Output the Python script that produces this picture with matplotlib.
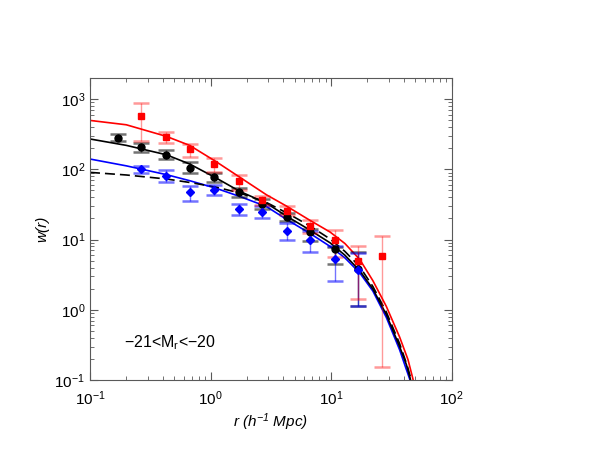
import matplotlib
matplotlib.use('Agg')
import matplotlib.pyplot as plt

plt.rcParams['font.family'] = ['Liberation Sans', 'DejaVu Sans']
plt.rcParams['mathtext.fontset'] = 'custom'
plt.rcParams['mathtext.rm'] = 'Liberation Sans'
plt.rcParams['mathtext.it'] = 'Liberation Sans:italic'
plt.rcParams['mathtext.default'] = 'regular'

# ── model curves ─────────────────────────────────────────────────────────────
r_red = [0.1, 0.2, 0.43, 0.67, 1.1, 1.75, 2.9, 4.3, 6.6, 9.8, 13, 17.3, 22.2, 28.7, 37, 43.4, 47.7, 49]
w_red = [496, 430, 294, 219, 130, 77, 43.5, 29.7, 19.0, 12.8, 8.8, 5.2, 2.6, 1.12, 0.41, 0.196, 0.104, 0.08]

r_blk = [0.1, 0.2, 0.43, 0.67, 1.1, 1.75, 2.9, 4.3, 6.6, 9.8, 13, 17.3, 22.2, 28.7, 37, 42.1, 45.4, 46.5]
w_blk = [270, 219, 161, 119, 76, 48.5, 33, 21.4, 13.8, 9.0, 6.0, 3.6, 1.98, 0.855, 0.3, 0.166, 0.104, 0.08]

r_blu = [0.1, 0.2, 0.43, 0.67, 1.1, 1.75, 2.9, 4.3, 6.6, 9.8, 13, 17.3, 22.2, 28.7, 37, 41.6, 44.8, 46]
w_blu = [140, 112, 84, 68.9, 54, 41, 29.6, 19.2, 12.4, 8.0, 5.5, 3.35, 1.85, 0.78, 0.27, 0.15, 0.104, 0.08]

r_dsh = [0.1, 0.2, 0.43, 0.67, 1.1, 1.75, 2.9, 4.3, 6.6, 9.8, 13, 17.3, 22.2, 28.7, 37, 42.8, 45.9, 47]
w_dsh = [90.4, 83, 72.8, 65, 56, 46, 33.8, 23.9, 15.8, 10.2, 6.8, 4.1, 2.15, 0.93, 0.33, 0.16, 0.104, 0.08]

# ── measurements ─────────────────────────────────────────────────────────────
r_all  = [0.172, 0.263, 0.424, 0.677, 1.07, 1.71, 2.68, 4.27, 6.65, 10.7, 16.7]
w_all  = [279, 205, 161, 104, 77.6, 46.9, 32.4, 20.9, 12.7, 7.35, 3.82]
lo_all = [249, 176, 141, 88.5, 67, 41, 27.5, 18.2, 9.4, 4.5, 1.12]
hi_all = [321, 237, 186, 127, 88.5, 55, 38, 23.9, 14.1, 7.85, 6.6]

r_rd  = [0.263, 0.424, 0.677, 1.07, 1.71, 2.68, 4.27, 6.65, 10.7, 16.7, 26.5]
w_rd  = [565, 285, 195, 119, 68.9, 36.6, 25.2, 15.4, 9.97, 4.9, 5.77]
lo_rd = [255, 237, 151, 93, 51, 31, 22.6, 12.4, 5.65, 1.43, 0.152]
hi_rd = [877, 335, 231, 145, 84, 42, 30.3, 18.8, 13.8, 8.2, 11.4]

r_bl  = [0.263, 0.424, 0.677, 1.07, 1.71, 2.68, 4.27, 6.65, 10.7, 16.7]
w_bl  = [101, 81, 46.9, 51.3, 27.2, 24.7, 13.4, 9.97, 5.3, 3.7]
lo_bl = [90, 66.7, 34.9, 43.6, 22.6, 20.3, 10, 6.67, 2.55, 1.15]
hi_bl = [112, 96.6, 58.5, 60, 32.4, 29.8, 17.2, 13.1, 8, 6.5]


def yerr(w, lo, hi):
    return [[a - b for a, b in zip(w, lo)], [b - a for a, b in zip(w, hi)]]


fig = plt.figure(figsize=(5.92, 4.58), dpi=100)
ax = fig.add_axes([0.152, 0.170, 0.611, 0.660])

ax.plot(r_red, w_red, color='red', lw=1.2)
ax.plot(r_blu, w_blu, color='blue', lw=1.2)
ax.plot(r_blk, w_blk, color='black', lw=1.2)
ax.plot(r_dsh, w_dsh, color='black', lw=1.2, ls=(0, (6, 3)))

EB = dict(capsize=6, capthick=1.8, elinewidth=1.0, ls='none')
ax.errorbar(r_all, w_all, yerr=yerr(w_all, lo_all, hi_all), fmt='o', color='black',
            ms=5, ecolor=(0, 0, 0, 0.55), **EB)
ax.errorbar(r_bl, w_bl, yerr=yerr(w_bl, lo_bl, hi_bl), fmt='D', color='blue',
            ms=4.2, ecolor=(0, 0, 1, 0.55), **EB)
ax.errorbar(r_rd, w_rd, yerr=yerr(w_rd, lo_rd, hi_rd), fmt='s', color='red',
            ms=4.8, ecolor=(1, 0, 0, 0.4), **EB)

ax.set_xscale('log'); ax.set_yscale('log')
ax.set_xlim(0.1, 100); ax.set_ylim(0.1, 2000)
ax.tick_params(which='both', direction='in', top=True, right=True, labelsize=11, color='0.35')
ax.tick_params(which='major', length=6)
ax.tick_params(which='minor', length=3)
ax.tick_params(axis='x', pad=7)
for s in ax.spines.values():
    s.set_color('0.35')

ax.set_xlabel('r (h$^{-1}$ Mpc)', fontsize=11, style='italic', labelpad=2)
ax.set_ylabel('w(r)', fontsize=11, style='italic', labelpad=4)
ax.text(0.19, 0.34, '\u221221<M$_r$<\u221220', fontsize=11.5, va='center')

fig.savefig('out.png', dpi=100)
